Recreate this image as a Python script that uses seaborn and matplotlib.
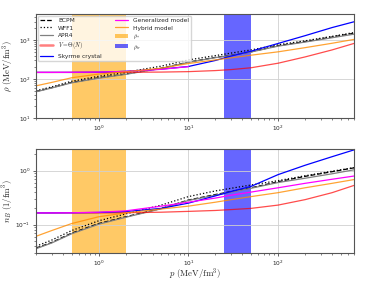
import numpy as np
import pandas as pd
import matplotlib
matplotlib.use("Agg")
import matplotlib.pyplot as plt
import seaborn as sns
from matplotlib.lines import Line2D
from matplotlib.patches import Patch

sns.set_style("ticks")
plt.rcParams["mathtext.fontset"] = "cm"
plt.rcParams["font.family"] = ["DejaVu Sans"]

# pressure grid (MeV/fm^3)
p = [0.2, 0.3, 0.5, 1, 2, 5, 10, 20, 30, 50, 100, 200, 400, 700]
p_gen_top = [0.2, 0.3, 0.5, 1, 2, 5, 10]

# energy density rho (MeV/fm^3)
rho_bcpm = [48, 60, 82, 108, 135, 190, 272, 360, 410, 500, 720, 920, 1200, 1500]
rho_wff1 = [50, 63, 88, 118, 150, 215, 310, 400, 465, 560, 760, 960, 1250, 1560]
rho_apr4 = [47, 59, 80, 105, 132, 188, 268, 355, 405, 495, 700, 890, 1150, 1420]
rho_vth = [148, 148, 148, 148, 149, 151, 155, 165, 175, 195, 255, 370, 560, 820]
rho_sky = [148, 148, 148, 150, 158, 180, 210, 300, 390, 520, 820, 1300, 2100, 2950]
rho_gen = [148, 148, 149, 151, 157, 178, 208]
rho_hyb = [67, 82, 108, 134, 154, 190, 250, 310, 350, 410, 500, 640, 830, 1040]

# baryon density n_B (1/fm^3)
nb_bcpm = [0.037, 0.047, 0.07, 0.105, 0.14, 0.2, 0.285, 0.36, 0.41, 0.48, 0.62, 0.78, 0.95, 1.12]
nb_wff1 = [0.04, 0.052, 0.078, 0.118, 0.158, 0.23, 0.33, 0.42, 0.47, 0.54, 0.65, 0.8, 0.97, 1.13]
nb_apr4 = [0.036, 0.046, 0.068, 0.102, 0.137, 0.197, 0.28, 0.35, 0.4, 0.47, 0.6, 0.72, 0.87, 1.03]
nb_vth = [0.165, 0.165, 0.165, 0.165, 0.166, 0.17, 0.176, 0.183, 0.19, 0.2, 0.23, 0.29, 0.39, 0.53]
nb_sky = [0.165, 0.165, 0.166, 0.168, 0.175, 0.2, 0.25, 0.34, 0.41, 0.51, 0.84, 1.25, 1.8, 2.4]
nb_gen = [0.165, 0.165, 0.166, 0.17, 0.18, 0.22, 0.26, 0.31, 0.35, 0.4, 0.48, 0.58, 0.69, 0.79]
nb_hyb = [0.061, 0.078, 0.105, 0.14, 0.165, 0.195, 0.22, 0.26, 0.29, 0.33, 0.39, 0.48, 0.58, 0.68]

band_star = (0.5, 2.0)
band_tr = (25, 50)

labels = ["BCPM", "WFF1", "APR4", r"$V = \Theta(N)$", "Skyrme crystal",
          "Generalized model", "Hybrid model"]
styles = [dict(color="black", ls="--"), dict(color="black", ls=":"),
          dict(color="gray", ls="-"), dict(color="red", ls="-", alpha=0.7),
          dict(color="blue", ls="-"), dict(color="magenta", ls="-"),
          dict(color="darkorange", ls="-", alpha=0.8)]

fig = plt.figure(figsize=(3.65, 2.82), dpi=100)
ax1 = fig.add_axes([0.0986, 0.5816, 0.871, 0.369])
ax2 = fig.add_axes([0.0986, 0.1028, 0.871, 0.369])

top_sets = [(p, rho_bcpm), (p, rho_wff1), (p, rho_apr4), (p, rho_vth),
            (p, rho_sky), (p_gen_top, rho_gen), (p, rho_hyb)]
bot_sets = [(p, nb_bcpm), (p, nb_wff1), (p, nb_apr4), (p, nb_vth),
            (p, nb_sky), (p, nb_gen), (p, nb_hyb)]

for ax, sets in ((ax1, top_sets), (ax2, bot_sets)):
    ax.axvspan(*band_star, color="orange", alpha=0.6, lw=0, zorder=0.5)
    ax.axvspan(*band_tr, color="blue", alpha=0.6, lw=0, zorder=0.5)
    for (xx, yy), st in zip(sets, styles):
        sns.lineplot(x=xx, y=yy, ax=ax, lw=0.9, **st)
    ax.set_xscale("log")
    ax.set_yscale("log")
    ax.set_xlim(0.2, 700)
    ax.grid(True, which="major", color="#d0d0d0", lw=0.6)
    ax.tick_params(which="major", labelsize=4.2, length=2.5, width=0.5, pad=1.5)
    ax.tick_params(which="minor", length=1.5, width=0.4)
    for s in ax.spines.values():
        s.set_color("#555555")
        s.set_linewidth(0.8)

ax1.set_ylim(10, 4700)
ax2.set_ylim(0.03, 2.5)
ax1.set_ylabel(r"$\rho\ (\mathrm{MeV/fm^3})$", fontsize=6.3)
ax2.set_ylabel(r"$n_B\ (1/\mathrm{fm}^3)$", fontsize=6.3)
ax2.set_xlabel(r"$p\ (\mathrm{MeV/fm^3})$", fontsize=6.3)
for ax in (ax1, ax2):
    ax.yaxis.set_label_coords(-0.062, 0.5)
ax2.xaxis.set_label_coords(0.5, -0.135)

handles = [Line2D([], [], lw=0.9, **st) for st in styles]
handles[3] = Line2D([], [], lw=1.8, color="red", alpha=0.5)
handles += [Patch(color="orange", alpha=0.6, lw=0), Patch(color="blue", alpha=0.6, lw=0)]
leg_labels = labels + [r"$\rho_*$", r"$\rho_{tr}$"]
ax1.legend(handles, leg_labels, loc="upper left", ncol=2, fontsize=4.2,
           frameon=True, framealpha=0.8, borderaxespad=0.3, handlelength=2.3,
           columnspacing=2.2, labelspacing=0.4, borderpad=0.4)

fig.savefig("out.png", dpi=100)
